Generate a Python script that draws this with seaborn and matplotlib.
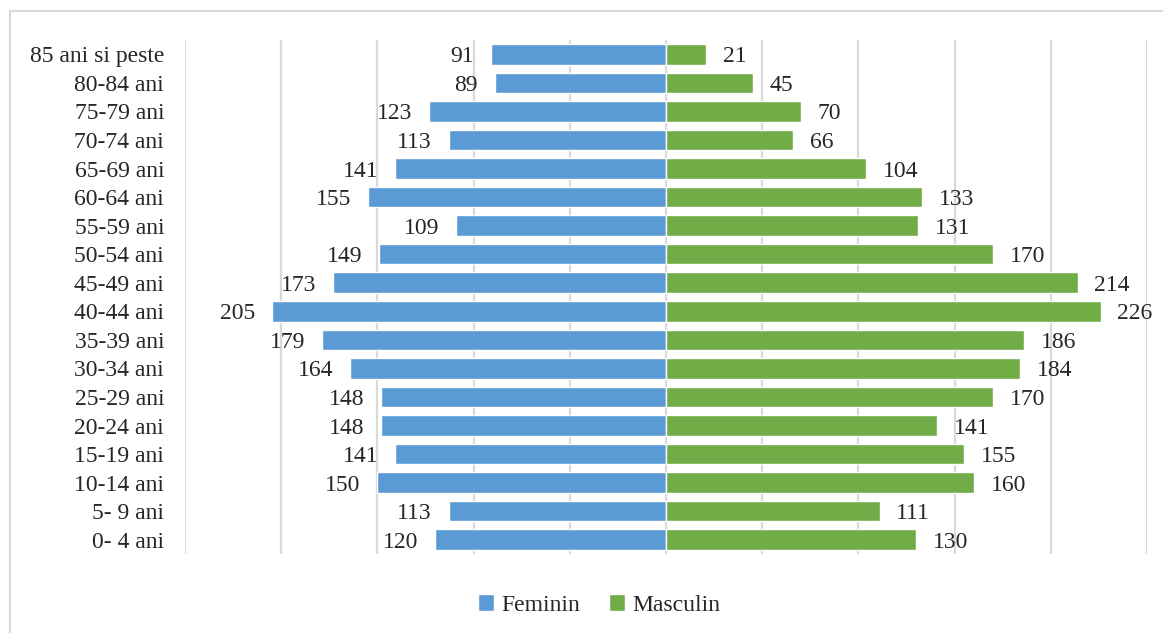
import matplotlib
matplotlib.use("Agg")
import matplotlib.pyplot as plt
from matplotlib.patches import Rectangle
import seaborn as sns
import pandas as pd

# age groups, top to bottom as in the chart
age_groups = ["85 ani si peste", "80-84 ani", "75-79 ani", "70-74 ani", "65-69 ani",
              "60-64 ani", "55-59 ani", "50-54 ani", "45-49 ani", "40-44 ani",
              "35-39 ani", "30-34 ani", "25-29 ani", "20-24 ani", "15-19 ani",
              "10-14 ani", "5- 9 ani", "0- 4 ani"]

feminin = [91, 89, 123, 113, 141, 155, 109, 149, 173, 205, 179, 164, 148, 148, 141, 150, 113, 120]
masculin = [21, 45, 70, 66, 104, 133, 131, 170, 214, 226, 186, 184, 170, 141, 155, 160, 111, 130]

sexes = ["Feminin", "Masculin"]
colors = ["#5B9BD5", "#70AD47"]

df = pd.concat([
    pd.DataFrame({"grupa": age_groups, "valoare": [-v for v in feminin], "sex": "Feminin"}),
    pd.DataFrame({"grupa": age_groups, "valoare": masculin, "sex": "Masculin"}),
])

sns.set_style("white")
plt.rcParams["font.family"] = ["Liberation Serif", "DejaVu Serif"]

fig = plt.figure(figsize=(11.63, 6.33), dpi=100)
ax = fig.add_axes([185 / 1163, 1 - 554 / 633, (1147 - 185) / 1163, (554 - 40) / 633])

sns.barplot(data=df, x="valoare", y="grupa", hue="sex", order=age_groups,
            hue_order=sexes, palette=colors, saturation=1, dodge=False, width=0.72,
            orient="h", edgecolor="white", linewidth=1, ax=ax, zorder=2)

# value labels at the bar ends
for cont, vals in zip(ax.containers, [feminin, masculin]):
    txts = ax.bar_label(cont, labels=[str(v) for v in vals], padding=12, fontsize=17)
    for t in txts:
        t.set_va("center_baseline")

ax.set_xlim(-250, 250)
ax.set_ylim(len(age_groups) - 0.5, -0.5)
ax.set_xticks(range(-250, 251, 50))
ax.set_xticklabels([])
ax.grid(axis="x", color="#d9d9d9", linewidth=1.6)
ax.set_axisbelow(True)
ax.tick_params(axis="y", length=0, pad=15, labelsize=17)
ax.tick_params(axis="x", length=0)
ax.set_xlabel("")
ax.set_ylabel("")
sns.despine(ax=ax, left=True, bottom=True)

ax.legend(title=None, loc="center", bbox_to_anchor=(599 / 1163, 1 - 605 / 633),
          bbox_transform=fig.transFigure, ncol=2, frameon=False, fontsize=17,
          handlelength=0.7, handleheight=0.7, handletextpad=0.3, columnspacing=1.2)

# outer chart frame (partially cut off in the original)
fig.patches.append(Rectangle((9.5 / 1163, -0.2), 1.2, 1.2 - 11 / 633,
                             transform=fig.transFigure, fill=False,
                             edgecolor="#d9d9d9", linewidth=1.5))

fig.savefig("out.png", dpi=100)
